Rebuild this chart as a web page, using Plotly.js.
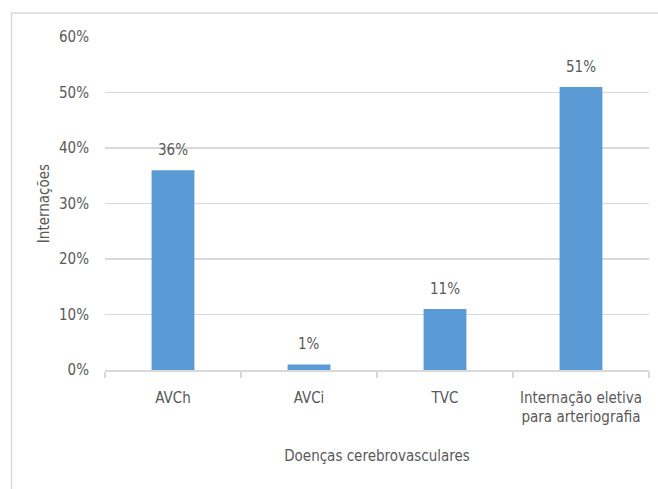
<!DOCTYPE html>
<html>
<head>
<meta charset="utf-8">
<script src="https://cdn.plot.ly/plotly-3.0.1.min.js"></script>
<style>html,body{margin:0;padding:0;background:#fff;}#chart{width:658px;height:489px;}</style>
</head>
<body>
<div id="chart"></div>
<script>
const categories = ["AVCh", "AVCi", "TVC", "Internação eletiva<br>para arteriografia"];
const values = [0.36, 0.01, 0.11, 0.51];
const valueLabels = ["36%", "1%", "11%", "51%"];
const yTickVals = [0, 0.1, 0.2, 0.3, 0.4, 0.5, 0.6];
const yTickText = ["0%", "10%", "20%", "30%", "40%", "50%", "60%"];
const xTitle = "Doenças cerebrovasculares";
const yTitle = "Internações";

const FONT = "'Liberation Sans Narrow', 'Arial Narrow', 'DejaVu Sans Condensed', sans-serif";
const TXT = "#595959";
const GRID = "#d9d9d9";
const FS = 15;

const trace = {
  type: "bar",
  x: categories,
  y: values,
  marker: {color: "#5b9bd5"},
  hoverinfo: "none"
};

const annotations = categories.map((c, i) => ({
  x: c, y: values[i], xref: "x", yref: "y",
  text: valueLabels[i], showarrow: false,
  yanchor: "bottom", yshift: 9,
  font: {family: FONT, size: FS, color: TXT}
}));

const layout = {
  width: 658, height: 489,
  margin: {l: 105, r: 9, t: 36.5, b: 118.5},
  paper_bgcolor: "#ffffff",
  plot_bgcolor: "#ffffff",
  showlegend: false,
  bargap: 0.685,
  font: {family: FONT, size: FS, color: TXT},
  xaxis: {
    type: "category",
    showgrid: false,
    showline: true, linecolor: GRID, linewidth: 1.5,
    ticks: "outside", tickson: "boundaries", ticklen: 6, tickcolor: GRID, tickwidth: 1.5,
    tickangle: 0, ticklabelstandoff: 13,
    tickfont: {family: FONT, size: FS, color: TXT},
    title: {text: xTitle, font: {family: FONT, size: FS, color: TXT}, standoff: 25},
    automargin: false,
    fixedrange: true
  },
  yaxis: {
    range: [0, 0.6],
    tickvals: yTickVals, ticktext: yTickText,
    showgrid: true, gridcolor: GRID, gridwidth: 1.5,
    zeroline: false, showline: false,
    ticks: "", ticklabelstandoff: 15,
    tickfont: {family: FONT, size: FS, color: TXT},
    title: {text: yTitle, font: {family: FONT, size: FS, color: TXT}, standoff: 5},
    automargin: false,
    fixedrange: true
  },
  annotations: annotations,
  shapes: [{
    type: "rect", xref: "paper", yref: "paper",
    x0: -0.1719, x1: 1.05, y0: -0.4, y1: 1.0719,
    line: {color: GRID, width: 1.5}, fillcolor: "rgba(0,0,0,0)", layer: "below"
  }]
};

Plotly.newPlot("chart", [trace], layout, {displayModeBar: false, staticPlot: true});
</script>
</body>
</html>
